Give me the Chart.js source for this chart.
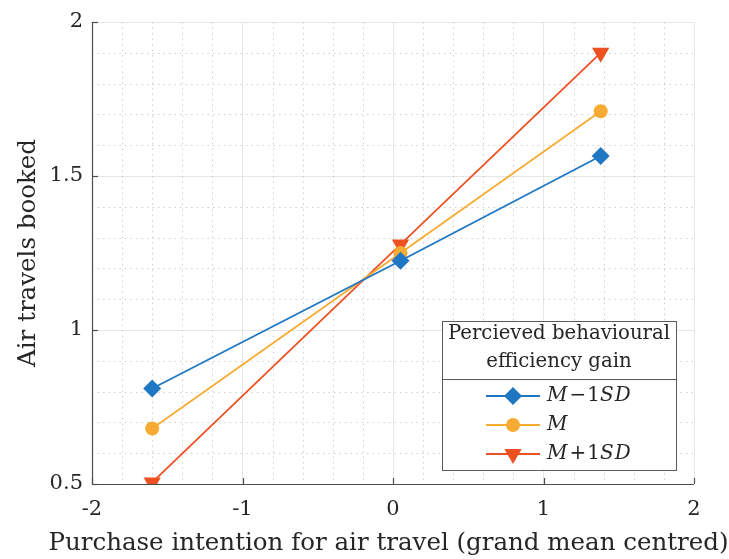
<!DOCTYPE html>
<html><head><meta charset="utf-8">
<script src="https://cdn.jsdelivr.net/npm/chart.js@4"></script>
<style>html,body{margin:0;padding:0;background:#fff}#wrap{width:729px;height:559px}</style>
</head><body><div id="wrap"><canvas id="c" width="729" height="559"></canvas></div>
<script>
const xValues = [-1.6, 0.05, 1.38];
const seriesLow = [0.81, 1.225, 1.565];
const seriesMid = [0.68, 1.25, 1.71];
const seriesHigh = [0.505, 1.278, 1.9];
const seriesLabels = ['M\u22121SD', 'M', 'M+1SD'];
const legendTitle = ['Percieved behavioural', 'efficiency gain'];
const xTicks = [-2, -1, 0, 1, 2];
const yTicks = [0.5, 1, 1.5, 2];
const xTitle = 'Purchase intention for air travel (grand mean centred)';
const yTitle = 'Air travels booked';

const FONT = '"DejaVu Serif", "Liberation Serif", serif';
const C_BLUE = '#1f77c4', C_ORANGE = '#f7ab32', C_RED = '#ee5121';

function pts(ys){ return xValues.map((x,i)=>({x:x,y:ys[i]})); }

const minorGrid = {
  id:'minorGrid',
  beforeDatasetsDraw(chart){
    const {ctx, chartArea:a, scales:{x,y}} = chart;
    ctx.save();
    ctx.strokeStyle = '#cfcfcf'; ctx.lineWidth = 1; ctx.setLineDash([1.5,4]);
    for(let v=-1.8; v<1.9; v+=0.2){
      if (Math.abs(v-Math.round(v))<1e-6) continue;
      const px = Math.round(x.getPixelForValue(v))+0.5;
      ctx.beginPath(); ctx.moveTo(px,a.top); ctx.lineTo(px,a.bottom); ctx.stroke();
    }
    for(let v=0.6; v<1.95; v+=0.1){
      if (Math.abs(v*2-Math.round(v*2))<1e-6) continue;
      const py = Math.round(y.getPixelForValue(v))+0.5;
      ctx.beginPath(); ctx.moveTo(a.left,py); ctx.lineTo(a.right,py); ctx.stroke();
    }
    ctx.setLineDash([]);
    ctx.strokeStyle = '#4d4d4d'; ctx.lineWidth = 1.2;
    ctx.beginPath(); ctx.moveTo(a.left+0.5,a.top); ctx.lineTo(a.left+0.5,a.bottom+0.5); ctx.lineTo(a.right,a.bottom+0.5); ctx.stroke();
    xTicks.forEach(v=>{ const px=Math.round(x.getPixelForValue(v))+0.5; ctx.beginPath(); ctx.moveTo(px,a.bottom); ctx.lineTo(px,a.bottom-6); ctx.stroke(); });
    yTicks.forEach(v=>{ const py=Math.round(y.getPixelForValue(v))+0.5; ctx.beginPath(); ctx.moveTo(a.left,py); ctx.lineTo(a.left+6,py); ctx.stroke(); });
    ctx.restore();
  },
  afterDraw(chart){
    const {ctx, chartArea:a} = chart;
    ctx.save();
    ctx.fillStyle = '#262626'; ctx.textAlign = 'center'; ctx.textBaseline = 'alphabetic';
    ctx.font = '24.5px ' + FONT;
    ctx.fillText(xTitle, a.left + (a.right - a.left)/2 - 4.5, 550);
    ctx.restore();
  }
};

function drawMath(ctx, s, x, y, size){
  let cx = x;
  for (const ch of s){
    if (/[A-Za-z]/.test(ch)){
      ctx.font = 'italic ' + size + 'px ' + FONT;
      ctx.fillText(ch, cx, y); cx += ctx.measureText(ch).width + 1;
    } else if (ch === '+' || ch === '\u2212'){
      ctx.font = size + 'px ' + FONT;
      cx += 1; ctx.fillText(ch, cx, y); cx += ctx.measureText(ch).width + 1;
    } else {
      ctx.font = size + 'px ' + FONT;
      ctx.fillText(ch, cx, y); cx += ctx.measureText(ch).width;
    }
  }
}

const boxLegend = {
  id:'boxLegend',
  afterDatasetsDraw(chart){
    const {ctx} = chart;
    const L = 442, R = 676, T = 321, B = 470, D = 379;
    ctx.save();
    ctx.fillStyle = '#fff'; ctx.fillRect(L,T,R-L,B-T);
    ctx.strokeStyle = '#5a5a5a'; ctx.lineWidth = 1;
    ctx.strokeRect(L+0.5,T+0.5,R-L,B-T);
    ctx.beginPath(); ctx.moveTo(L,D+0.5); ctx.lineTo(R,D+0.5); ctx.stroke();
    ctx.fillStyle = '#262626'; ctx.textAlign='center'; ctx.textBaseline='middle';
    ctx.font = '19.7px ' + FONT;
    ctx.fillText(legendTitle[0], (L+R)/2, 334);
    ctx.fillText(legendTitle[1], (L+R)/2, 362);
    const rows = [396, 425, 454];
    chart.data.datasets.forEach((ds,i)=>{
      const yy = rows[i];
      ctx.strokeStyle = ds.borderColor; ctx.lineWidth = 2;
      ctx.beginPath(); ctx.moveTo(486,yy); ctx.lineTo(540,yy); ctx.stroke();
      ctx.fillStyle = ds.pointBackgroundColor;
      Chart.helpers.drawPoint(ctx, {pointStyle: ds.pointStyle, rotation: ds.pointRotation||0, radius: ds.pointRadius, borderWidth:0}, 513, yy);
      ctx.fillStyle = '#262626'; ctx.textAlign='left';
      drawMath(ctx, ds.label, 547, yy, 20);
    });
    ctx.restore();
  }
};

new Chart(document.getElementById('c'), {
  type:'line',
  data:{ datasets:[
    {label:seriesLabels[0], data:pts(seriesLow), borderColor:C_BLUE, backgroundColor:C_BLUE, pointBackgroundColor:C_BLUE, pointBorderColor:C_BLUE, pointStyle:'rectRot', pointRadius:9, borderWidth:1.8, pointBorderWidth:0},
    {label:seriesLabels[1], data:pts(seriesMid), borderColor:C_ORANGE, backgroundColor:C_ORANGE, pointBackgroundColor:C_ORANGE, pointBorderColor:C_ORANGE, pointStyle:'circle', pointRadius:7, borderWidth:1.8, pointBorderWidth:0},
    {label:seriesLabels[2], data:pts(seriesHigh), borderColor:C_RED, backgroundColor:C_RED, pointBackgroundColor:C_RED, pointBorderColor:C_RED, pointStyle:'triangle', pointRotation:180, pointRadius:10, borderWidth:1.8, pointBorderWidth:0}
  ]},
  options:{
    responsive:false, animation:false, devicePixelRatio:1,
    layout:{padding:{top:22,right:35,left:0,bottom:0}},
    plugins:{legend:{display:false}, tooltip:{enabled:false}},
    elements:{line:{tension:0}},
    scales:{
      x:{type:'linear', min:-2, max:2,
        afterBuildTicks(s){ s.ticks = xTicks.map(v=>({value:v})); },
        afterFit(s){ s.height = 75; },
        grid:{color:'#e6e6e6', lineWidth:1, tickLength:0, drawTicks:false},
        border:{display:false},
        ticks:{font:{family:FONT, size:21}, color:'#262626', padding:13, callback:v=>String(v)},
        title:{display:false}
      },
      y:{type:'linear', min:0.5, max:2,
        afterBuildTicks(s){ s.ticks = yTicks.map(v=>({value:v})); },
        afterFit(s){ s.width = 92; },
        grid:{color:'#e6e6e6', lineWidth:1, tickLength:0, drawTicks:false},
        border:{display:false},
        ticks:{font:{family:FONT, size:21}, color:'#262626', padding:9, callback:v=>String(v)},
        title:{display:true, text:yTitle, font:{family:FONT, size:24.5}, color:'#262626', padding:{top:14,bottom:0}}
      }
    }
  },
  plugins:[minorGrid, boxLegend]
});
</script></body></html>
